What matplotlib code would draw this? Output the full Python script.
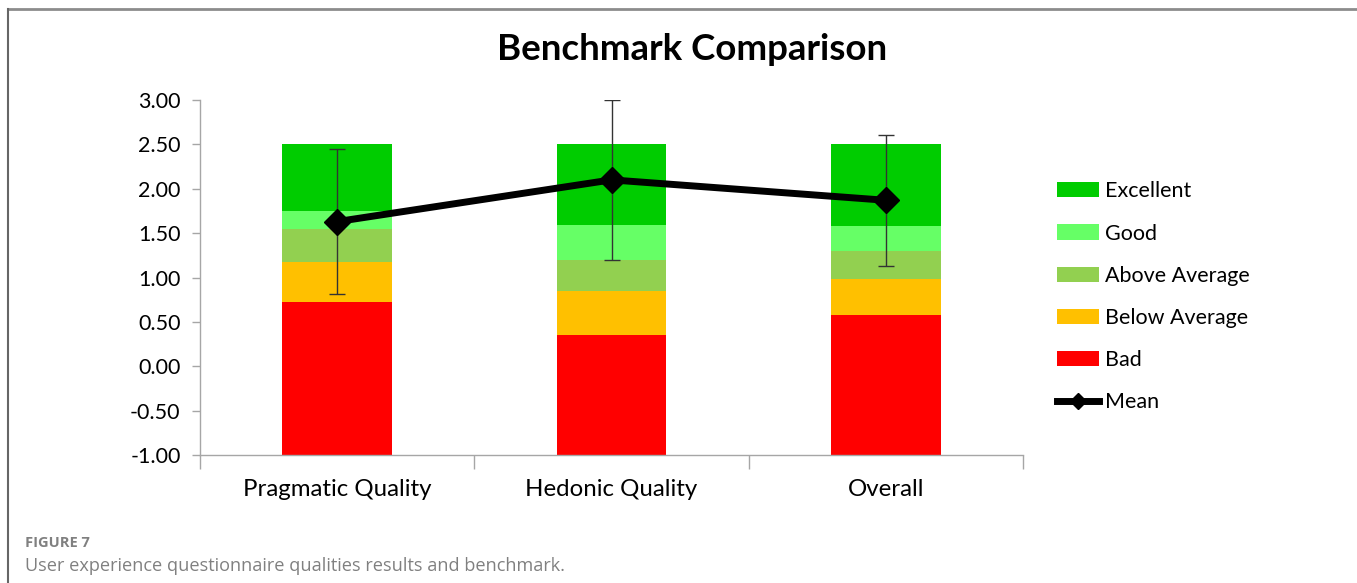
import numpy as np
import matplotlib
matplotlib.use('Agg')
import matplotlib.pyplot as plt
from matplotlib.lines import Line2D

categories = ['Pragmatic Quality', 'Hedonic Quality', 'Overall']
# upper limit of each benchmark band (bars start at the axis minimum)
bad = [0.72, 0.35, 0.58]
below_avg = [1.17, 0.85, 0.98]
above_avg = [1.55, 1.20, 1.30]
good = [1.75, 1.59, 1.58]
excellent = [2.50, 2.50, 2.50]
mean = [1.63, 2.10, 1.87]
err = [0.82, 0.90, 0.74]
y_min = -1.0

bands = [('Bad', bad, '#ff0000'),
         ('Below Average', below_avg, '#ffc000'),
         ('Above Average', above_avg, '#92d050'),
         ('Good', good, '#66ff66'),
         ('Excellent', excellent, '#00cc00')]

plt.rcParams['font.family'] = ['Lato', 'DejaVu Sans']

fig = plt.figure(figsize=(13.57, 5.83), dpi=100)
ax = fig.add_axes([200/1357, 1 - 455/583, 823/1357, 355/583])

x = np.arange(len(categories))
handles = []
lower = np.full(len(categories), y_min)
for name, top, color in bands:
    top = np.array(top)
    b = ax.bar(x, top - lower, bottom=lower, width=0.4, color=color,
               edgecolor='none', zorder=2, label=name)
    handles.append(b)
    lower = top

ax.errorbar(x, mean, yerr=err, fmt='none', ecolor='#333333', elinewidth=1,
            capsize=6, capthick=1, zorder=3)
ax.plot(x, mean, color='black', lw=5, marker='D', markersize=13, zorder=4)

ax.set_xlim(-0.5, 2.5)
ax.set_ylim(-1, 3)
ax.set_yticks(np.arange(-1, 3.01, 0.5))
ax.set_yticklabels(['%.2f' % v for v in np.arange(-1, 3.01, 0.5)], fontsize=15.5)
ax.set_xticks(x)
ax.set_xticklabels(categories, fontsize=17.3)
ax.set_xticks([-0.5, 0.5, 1.5, 2.5], minor=True)
ax.tick_params(axis='x', which='major', length=0, pad=17)
ax.tick_params(axis='x', which='minor', length=10, color='#a6a6a6', width=1)
ax.tick_params(axis='y', length=6, color='#a6a6a6', width=1, pad=8)
for s in ['top', 'right']:
    ax.spines[s].set_visible(False)
for s in ['left', 'bottom']:
    ax.spines[s].set_color('#a6a6a6')
    ax.spines[s].set_linewidth(1)

fig.text(692/1357, 1 - 50/583, 'Benchmark Comparison', ha='center', va='center',
         fontsize=26.4, fontweight='bold')

mean_handle = Line2D([], [], color='black', lw=5, marker='D', markersize=8)
leg_handles = handles[::-1] + [mean_handle]
leg_labels = ['Excellent', 'Good', 'Above Average', 'Below Average', 'Bad', 'Mean']
fig.legend(leg_handles, leg_labels, loc='upper left',
           bbox_to_anchor=(1038/1357, 1 - 162/583), frameon=False, fontsize=15.5,
           handlelength=1.95, handleheight=0.7, handletextpad=0.28,
           labelspacing=1.03)

# figure frame and caption
fig.add_artist(Line2D([8/1357, 1], [1 - 9/583, 1 - 9/583], color='#8c8c8c',
                      lw=2, transform=fig.transFigure))
fig.add_artist(Line2D([8/1357, 8/1357], [0, 1 - 9/583], color='#666666',
                      lw=1.5, transform=fig.transFigure))
fig.text(25/1357, 1 - 543/583, 'FIGURE 7', ha='left', va='center',
         fontsize=10.5, fontweight='bold', color='#808080', family='Open Sans')
fig.text(25/1357, 1 - 566/583,
         'User experience questionnaire qualities results and benchmark.',
         ha='left', va='center', fontsize=13.1, color='#808080', family='Open Sans')

fig.savefig('out.png', dpi=100)
